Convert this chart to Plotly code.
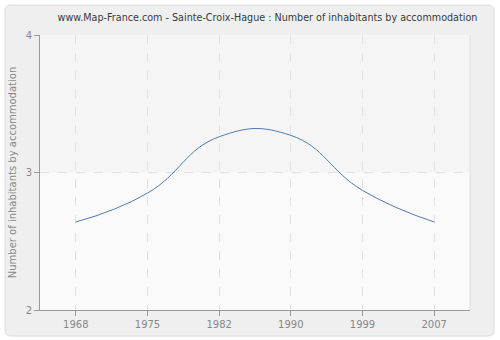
import plotly.graph_objects as go

years = ["1968", "1975", "1982", "1990", "1999", "2007"]
values = [2.64, 2.85, 3.26, 3.27, 2.87, 2.64]
y_ticks = [2, 3, 4]

W, H = 500, 340
L, R, T, B = 40, 30, 35, 30
pw, ph = W - L - R, H - T - B

def px(x):
    return (x - L) / pw

def py(y):
    return (H - B - y) / ph

def rounded_rect(x0, y0, x1, y1, r):
    X0, X1 = px(x0), px(x1)
    Y0, Y1 = py(y0), py(y1)
    rx, ry = r / pw, r / ph
    return (f"M {X0+rx},{Y0} L {X1-rx},{Y0} Q {X1},{Y0} {X1},{Y0-ry} "
            f"L {X1},{Y1+ry} Q {X1},{Y1} {X1-rx},{Y1} L {X0+rx},{Y1} "
            f"Q {X0},{Y1} {X0},{Y1+ry} L {X0},{Y0-ry} Q {X0},{Y0} {X0+rx},{Y0} Z")

fig = go.Figure()
fig.add_trace(go.Scatter(
    x=years, y=values, mode="lines",
    line=dict(color="#4f7cb0", width=1, shape="spline", smoothing=1.3),
    hoverinfo="skip", showlegend=False,
))

shapes = [
    dict(type="path", xref="paper", yref="paper", layer="below",
         path=rounded_rect(5, 5, 494, 336, 6),
         fillcolor="#efefef", line=dict(color="#dcdcdc", width=1)),
    dict(type="rect", xref="paper", yref="paper", layer="below",
         x0=0, x1=1, y0=0, y1=1, fillcolor="#fafafa", line=dict(width=0)),
    dict(type="rect", xref="paper", yref="y", layer="below",
         x0=0, x1=1, y0=3, y1=4, fillcolor="#f5f5f5", line=dict(width=0)),
    dict(type="line", xref="paper", yref="paper", layer="below",
         x0=1, x1=1, y0=0, y1=1, line=dict(color="#dddddd", width=1)),
]

fig.update_layout(
    width=W, height=H,
    margin=dict(l=L, r=R, t=T, b=B, autoexpand=False),
    paper_bgcolor="#ffffff",
    plot_bgcolor="rgba(0,0,0,0)",
    font=dict(family="DejaVu Sans", size=10, color="#888888"),
    title=dict(text="www.Map-France.com - Sainte-Croix-Hague : Number of inhabitants by accommodation",
               x=0.535, xanchor="center", y=1 - 18 / H, yanchor="middle",
               font=dict(family="DejaVu Sans", size=9.6, color="#3a3a3a")),
    shapes=shapes,
    xaxis=dict(
        type="category", range=[-0.5, 5.5], automargin=False,
        showgrid=True, gridcolor="#e2e2e2", griddash="dash", gridwidth=1,
        showline=True, linecolor="#999999", linewidth=1,
        ticks="outside", ticklen=5, tickcolor="#999999",
        tickfont=dict(size=10, color="#888888"), zeroline=False,
    ),
    yaxis=dict(
        range=[2, 4], tickvals=y_ticks, ticktext=[str(v) for v in y_ticks],
        automargin=False,
        showgrid=True, gridcolor="#e2e2e2", griddash="dash", gridwidth=1,
        showline=True, linecolor="#999999", linewidth=1,
        ticks="outside", ticklen=5, tickcolor="#999999",
        tickfont=dict(size=10, color="#888888"), zeroline=False,
        title=dict(text="Number of inhabitants by accommodation", standoff=7,
                   font=dict(size=10, color="#888888")),
    ),
)

fig.write_html("out.html")
